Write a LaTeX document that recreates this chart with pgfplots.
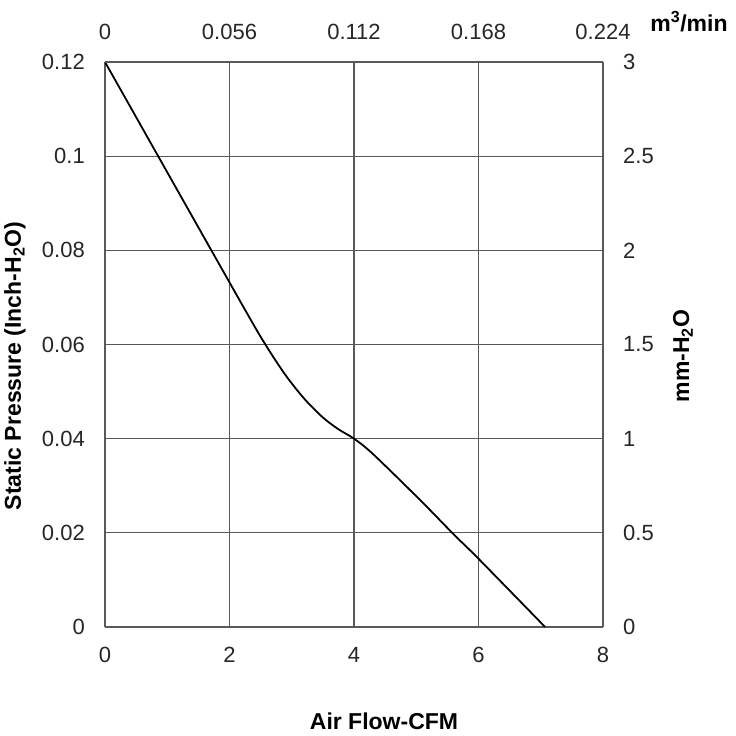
\documentclass[border=0pt]{standalone}
\usepackage{fontspec}
\setmainfont{Liberation Sans}
\usepackage{pgfplots}
\pgfplotsset{compat=1.18}
\begin{document}
\begin{tikzpicture}
\useasboundingbox (-105pt,-109pt) rectangle (631pt,627pt);
\begin{axis}[
  scale only axis, width=498pt, height=565pt,
  at={(0pt,0pt)}, anchor=south west,
  xmin=0, xmax=8, ymin=0, ymax=0.12,
  xtick={0,2,4,6,8}, xticklabels={0,2,4,6,8},
  ytick={0,0.02,0.04,0.06,0.08,0.1,0.12},
  yticklabels={0,0.02,0.04,0.06,0.08,0.1,0.12},
  axis x line*=bottom, axis y line*=left,
  grid=major, major grid style={black!65, line width=1.2pt},
  axis line style={black!65, line width=1.2pt},
  major tick length=0pt,
  tick label style={font=\fontsize{22}{25}\selectfont, text=black!85},
  xticklabel style={inner sep=0pt, yshift=-20pt},
  yticklabel style={inner sep=0pt, xshift=-20pt},
]
\addplot[black, line width=1.8pt, smooth] coordinates {
(0,0.12) (1.2,0.0919) (2.3,0.0662) (2.6,0.0595) (2.9,0.0535) (3.2,0.0485) (3.5,0.0445) (3.75,0.042) (4.0,0.04) (4.3,0.0368) (5.06,0.027) (5.6,0.0197) (6.0,0.0145) (7.07,0)
};
\end{axis}
\begin{axis}[
  scale only axis, width=498pt, height=565pt,
  at={(0pt,0pt)}, anchor=south west,
  xmin=0, xmax=0.224, ymin=0, ymax=3,
  xtick={0,0.056,0.112,0.168,0.224}, xticklabels={0,0.056,0.112,0.168,0.224},
  ytick={0,0.5,1,1.5,2,2.5,3}, yticklabels={0,0.5,1,1.5,2,2.5,3},
  axis x line*=top, axis y line*=right,
  axis line style={black!65, line width=1.2pt},
  major tick length=0pt,
  tick label style={font=\fontsize{22}{25}\selectfont, text=black!85},
  xticklabel style={inner sep=0pt, yshift=22pt},
  yticklabel style={inner sep=0pt, xshift=20pt},
]
\end{axis}
\node[font=\fontsize{23}{26}\selectfont\bfseries] at (279pt,-94pt) {Air Flow-CFM};
\node[font=\fontsize{23}{26}\selectfont\bfseries, rotate=90] at (-90pt,261pt) {Static Pressure (Inch-H\textsubscript{2}O)};
\node[font=\fontsize{23}{26}\selectfont\bfseries, rotate=90] at (578pt,271pt) {mm-H\textsubscript{2}O};
\node[font=\fontsize{23}{26}\selectfont\bfseries] at (584pt,605pt) {m\textsuperscript{3}/min};
\end{tikzpicture}
\end{document}
